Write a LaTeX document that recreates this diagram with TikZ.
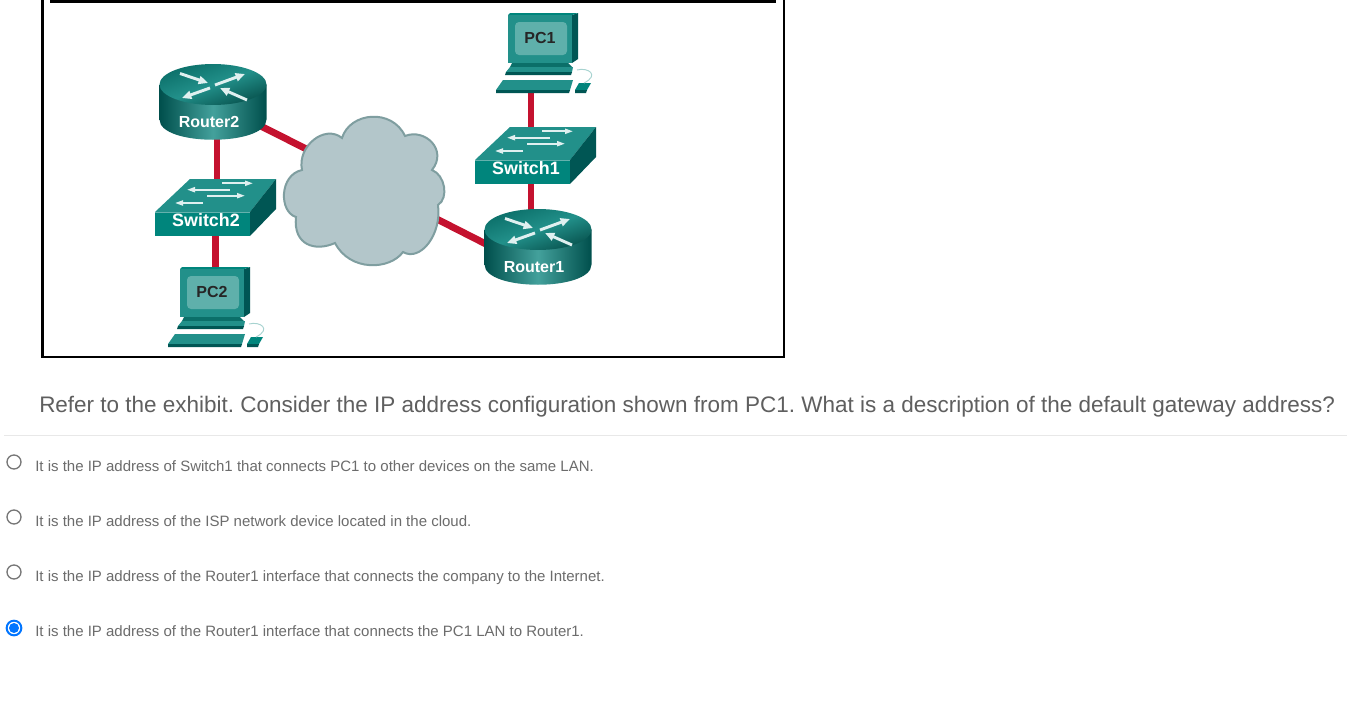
\documentclass[tikz,border=0pt]{standalone}
\usepackage{fontspec}
\setmainfont{Liberation Sans}
\usetikzlibrary{arrows.meta}
\definecolor{tealA}{HTML}{00857C}
\definecolor{tealB}{HTML}{0B6F69}
\definecolor{tealC}{HTML}{22908A}
\definecolor{tealD}{HTML}{004F4C}
\definecolor{screenC}{HTML}{5FB0AB}
\definecolor{wire}{HTML}{C4122F}
\definecolor{cloudF}{HTML}{B3C6CA}
\definecolor{cloudE}{HTML}{7F9EA0}
\definecolor{txtQ}{HTML}{5F5F5F}
\definecolor{txtO}{HTML}{6C6C6C}
\definecolor{radioB}{HTML}{0075FF}
\definecolor{radioG}{HTML}{767676}
\tikzset{
  x=0.75pt,y=-0.75pt,
  wireline/.style={wire,line width=5.2pt,line cap=butt},
  wireshade/.style={black!75,line width=1.1pt,xshift=3pt},
  devlabel/.style={text=white,font=\fontsize{12}{12}\bfseries\selectfont,inner sep=0pt},
  pclabel/.style={text=black!85,font=\fontsize{12}{12}\bfseries\selectfont,inner sep=0pt},
  question/.style={text=txtQ,font=\fontsize{16.86}{20}\selectfont,anchor=base west,inner sep=0pt},
  answer/.style={text=txtO,font=\fontsize{11.25}{13}\selectfont,anchor=base west,inner sep=0pt},
  radiooff/.style={draw=radioG,fill=white,line width=1pt},
  whitearrow/.style={draw=white!88!teal,line width=1.3pt,-{Triangle[length=6pt,width=3.8pt]}},
  routerarrow/.style={draw=white!88!teal,line width=2.2pt,-{Triangle[length=7pt,width=6pt]}},
}
% switch: origin = front-top-left corner
\newcommand{\switchicon}[4]{%
 \begin{scope}[shift={(#1,#2)}]
  \fill[tealC] (0,0) -- (35,-33) -- (121,-33) -- (95,0) -- cycle;
  \fill[tealD!85!teal] (95,0) -- (121,-33) -- (121,-3) -- (95,24) -- cycle;
  \fill[tealA] (0,0) rectangle (95,24);
  \fill[tealC!70!white] (0,-0.5) rectangle (95,1);
  \draw[whitearrow] (67,-28.7) -- (98,-28.7);
  \draw[whitearrow] (75,-22.3) -- (32,-22.3);
  \draw[whitearrow] (52,-16.3) -- (90,-16.3);
  \draw[whitearrow] (48,-9) -- (20,-9);
  \node[devlabel,font=\fontsize{13.4}{13}\bfseries\selectfont] (#4) at (51,8.5) {#3};
 \end{scope}}
% router: origin = centre of the top ellipse
\newcommand{\routericon}[4]{%
 \begin{scope}[shift={(#1,#2)}]
  \shade[left color=tealD,right color=tealD,middle color=tealC!85!white]
    (-53.5,0) -- (-53.5,35) .. controls (-53.5,62) and (53.5,62) .. (53.5,35) -- (53.5,0) -- cycle;
  \shade[left color=tealB,right color=tealB!75!black,middle color=tealC,shading angle=20]
    (0,0) ellipse[x radius=53.5,y radius=20.5];
  \draw[routerarrow] (-33,-11) -- (-5,-1.5);
  \draw[routerarrow] (2,0.5) -- (32,-10.5);
  \draw[routerarrow] (-3,3.5) -- (-31,13.5);
  \draw[routerarrow] (34,15.5) -- (7,3.5);
  \node[devlabel] (#4) at (-4,37.5) {#3};
 \end{scope}}
% pc: origin = screen front-top-left corner
\newcommand{\pcicon}[4]{%
 \begin{scope}[shift={(#1,#2)}]
  \fill[tealD!85!teal] (64,0) -- (70,-2) -- (70,44) -- (64,48) -- cycle;
  \fill[tealA] (0,0) -- (2,-2) -- (70,-2) -- (64,0) -- cycle;
  \fill[tealC] (0,0) rectangle (64,48);
  \fill[screenC] (7,7) [rounded corners=3pt] rectangle (59,40);
  \fill[tealB] (4,48) -- (60,48) -- (64,52) -- (2,52) -- cycle;
  \fill[tealC] (2,52) -- (65,52) -- (64,57) -- (-2,57) -- cycle;
  \fill[tealD!85!teal] (-2,57) -- (64,57) -- (63,60) -- (-3,60) -- cycle;
  \fill[tealC] (-5,65) -- (65,65) -- (62,75) -- (-12,75) -- cycle;
  \fill[tealD!85!teal] (-12,75) -- (62,75) -- (61,78) -- (-12,78) -- cycle;
  \fill[tealA] (71,68) -- (83,68) -- (79,75) -- (67,75) -- cycle;
  \fill[tealD!85!teal] (67,75) -- (79,75) -- (78,78) -- (67,78) -- cycle;
  \draw[tealC!40!white,line width=0.7pt] (69,55) .. controls (80,52) and (92,60) .. (76,68);
  \node[pclabel] (#4) at (32,23) {#3};
 \end{scope}}
\begin{document}
\begin{tikzpicture}
\frenchspacing
\useasboundingbox (0,0) rectangle (1347,721);
\fill[white] (0,0) rectangle (1347,721);
% exhibit frame
\draw[black,line width=2.2pt] (42.5,0) -- (42.5,357) -- (784,357) -- (784,0);
\fill[black] (50,0) rectangle (776,3);
% connector ends
\coordinate (pcOneB) at (531,80);
\coordinate (swOneT) at (531,140);
\coordinate (swOneB) at (531,170);
\coordinate (roOneT) at (531,225);
\coordinate (roOneL) at (537,270);
\coordinate (cloudR) at (364,182);
\coordinate (cloudL) at (364,178);
\coordinate (roTwoR) at (213,102);
\coordinate (roTwoB) at (217,120);
\coordinate (swTwoT) at (217,195);
\coordinate (swTwoB) at (215.5,220);
\coordinate (pcTwoT) at (215.5,280);
% connectors
\draw[wireline] (roTwoB) -- (swTwoT);
\draw[wireline] (swTwoB) -- (pcTwoT);
\draw[wireshade] (pcOneB) -- (swOneT);
\draw[wireshade] (swOneB) -- (roOneT);
\draw[wireline] (pcOneB) -- (swOneT);
\draw[wireline] (swOneB) -- (roOneT);
\draw[wireline] (roTwoR) -- (cloudL);
\draw[wireline] (roOneL) -- (cloudR);
% devices
\switchicon{475}{160}{Switch1}{swOne}
\switchicon{155}{212}{Switch2}{swTwo}
\routericon{538}{229.5}{Router1}{roOne}
\routericon{213}{84.5}{Router2}{roTwo}
\pcicon{508}{15}{PC1}{pcOne}
\pcicon{180}{269}{PC2}{pcTwo}
% cloud
\draw[cloudE,fill=cloudF,line width=1.5pt] (302,170)
  .. controls (297,146) and (325,124) .. (342,138)
  .. controls (350,112) and (392,108) .. (405,136)
  .. controls (425,128) and (448,150) .. (432,170)
  .. controls (445,175) and (449,198) .. (438,205)
  .. controls (442,235) and (420,262) .. (403,252)
  .. controls (390,270) and (350,272) .. (335,243)
  .. controls (315,252) and (293,245) .. (296,217)
  .. controls (279,212) and (279,175) .. (302,170) -- cycle;
% question
\node[question] (q) at (39,412) {Refer to the exhibit. Consider the IP address configuration shown from PC1. What is a description of the default gateway address?};
\draw[black!9,line width=0.75pt] (4,435.5) -- (1347,435.5);
% answers
\node[radiooff,circle,minimum size=10.5pt,inner sep=0pt] (rA) at (14,462) {};
\node[radiooff,circle,minimum size=10.5pt,inner sep=0pt] (rB) at (14,517) {};
\node[radiooff,circle,minimum size=10.5pt,inner sep=0pt] (rC) at (14,572) {};
\node[circle,draw=radioB,fill=white,line width=1.5pt,minimum size=11pt,inner sep=0pt] (rD) at (14,628) {};
\node[circle,fill=radioB,minimum size=7.5pt,inner sep=0pt] (rDdot) at (14,628) {};
\node[answer] (aA) at (35,471) {It is the IP address of Switch1 that connects PC1 to other devices on the same LAN.};
\node[answer] (aB) at (35,526) {It is the IP address of the ISP network device located in the cloud.};
\node[answer] (aC) at (35,581) {It is the IP address of the Router1 interface that connects the company to the Internet.};
\node[answer] (aD) at (35,636) {It is the IP address of the Router1 interface that connects the PC1 LAN to Router1.};
\end{tikzpicture}
\end{document}
